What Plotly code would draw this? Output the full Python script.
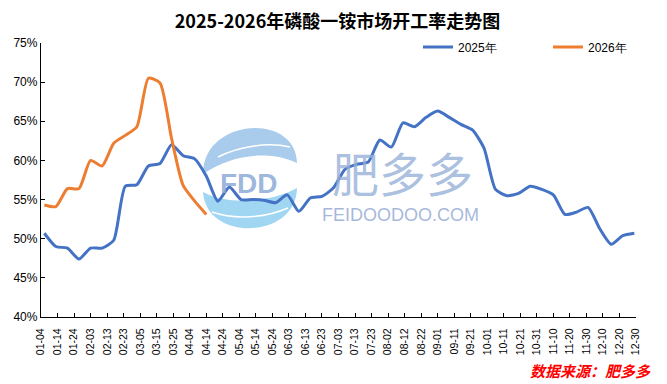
import plotly.graph_objects as go

# ---- data ----
week_dates = ["01-06", "01-13", "01-20", "01-27", "02-03", "02-10", "02-17", "02-24",
              "03-03", "03-10", "03-17", "03-24", "03-31", "04-07", "04-14", "04-21",
              "04-28", "05-05", "05-12", "05-19", "05-26", "06-02", "06-09", "06-16",
              "06-23", "06-30", "07-07", "07-14", "07-21", "07-28", "08-04", "08-11",
              "08-18", "08-25", "09-01", "09-08", "09-15", "09-22", "09-29", "10-06",
              "10-13", "10-20", "10-27", "11-03", "11-10", "11-17", "11-24", "12-01",
              "12-08", "12-15", "12-22", "12-29"]

rate_2025 = [50.7, 49.0, 48.8, 47.4, 48.8, 48.8, 49.8, 56.7, 56.9, 59.3, 59.6, 62.0,
             60.6, 60.2, 58.0, 54.8, 56.6, 55.0, 55.0, 54.9, 54.6, 55.6, 53.5, 55.2,
             55.4, 56.5, 58.9, 59.5, 59.8, 62.6, 61.7, 64.8, 64.3, 65.5, 66.3, 65.5,
             64.6, 63.9, 61.6, 56.3, 55.5, 55.8, 56.7, 56.3, 55.6, 53.1, 53.4, 54.0,
             51.3, 49.3, 50.4, 50.7]

rate_2026 = [54.3, 54.1, 56.4, 56.4, 60.0, 59.3, 62.2, 63.2, 64.3, 70.5, 69.9, 62.8,
             56.8, 54.8, 53.1]

series_names = ["2025年", "2026年"]
title_text = "2025-2026年磷酸一铵市场开工率走势图"
source_text = "数据来源：肥多多"

# ---- layout helpers (reference pixel -> paper); page body has an 8px margin ----
OFF = 8
FW, FH = 667 - OFF, 384 - OFF
L, R, T, B = 41 - OFF, 636 - OFF, 43 - OFF, 317 - OFF
W, H = R - L, B - T


def px(x):
    return (x - OFF - L) / W


def py(y):
    return (B - (y - OFF)) / H


def path(pts_cmds):
    out = []
    for c in pts_cmds:
        if isinstance(c, str):
            out.append(c)
        else:
            out.append(f"{px(c[0]):.4f},{py(c[1]):.4f}")
    return " ".join(out)


xs = ["2025-" + d for d in week_dates]

fig = go.Figure()
fig.add_trace(go.Scatter(x=xs, y=rate_2025, name=series_names[0], mode="lines",
                         line=dict(color="#4472C4", width=3, shape="spline", smoothing=0.6)))
fig.add_trace(go.Scatter(x=xs[:len(rate_2026)], y=rate_2026, name=series_names[1], mode="lines",
                         line=dict(color="#ED7D31", width=3, shape="spline", smoothing=0.6)))

# ---- watermark logo shapes ----
shapes = [
    dict(type="path", xref="paper", yref="paper", layer="below", line=dict(width=0),
         fillcolor="#a9cbec",
         path=path(["M", (203, 174), "C", (203, 118), (296, 112), (297, 163),
                    "C", (270, 150), (232, 154), (203, 174), "Z"])),
    dict(type="path", xref="paper", yref="paper", layer="below", line=dict(width=0),
         fillcolor="#a0d6f2",
         path=path(["M", (203, 192), "C", (228, 206), (272, 202), (297, 188),
                    "C", (296, 240), (206, 242), (203, 192), "Z"])),
    dict(type="path", xref="paper", yref="paper", layer="below",
         line=dict(width=1.5, color="white"),
         path=path(["M", (218, 157), "C", (240, 146), (268, 142), (290, 147)])),
    dict(type="path", xref="paper", yref="paper", layer="below",
         line=dict(width=1.5, color="white"),
         path=path(["M", (212, 212), "C", (235, 220), (265, 218), (288, 208)])),
]

annotations = [
    dict(text="<b>FDD</b>", x=px(249), y=py(183), xref="paper", yref="paper",
         showarrow=False, font=dict(family="Liberation Sans", size=28, color="rgba(140,170,215,0.85)")),
    dict(text="肥多多", x=px(403), y=py(171), xref="paper", yref="paper",
         showarrow=False, font=dict(family="Noto Sans CJK SC", size=47, color="rgba(150,175,215,0.8)")),
    dict(text="FEIDOODOO.COM", x=px(400), y=py(215), xref="paper", yref="paper",
         showarrow=False, font=dict(family="Liberation Sans", size=18, color="rgba(150,172,212,0.85)")),
    dict(text="<b><i>" + source_text + "</i></b>", x=px(653), y=py(370), xref="paper", yref="paper",
         xanchor="right", yanchor="middle", showarrow=False,
         font=dict(family="Noto Sans CJK SC", size=15, color="#FF0000")),
]

fig.update_layout(
    width=FW, height=FH,
    margin=dict(l=L, r=FW - R, t=T, b=FH - B, autoexpand=False),
    paper_bgcolor="white", plot_bgcolor="white",
    title=dict(text="<b>" + title_text + "</b>", x=0.5, xanchor="center",
               y=1 - (22 - OFF) / FH, yanchor="middle",
               font=dict(family="Noto Sans CJK SC", size=18, color="black")),
    font=dict(family="Liberation Sans", color="black"),
    showlegend=True,
    legend=dict(orientation="h", x=px(418), xanchor="left", y=py(47), yanchor="middle",
                font=dict(family="Liberation Sans", size=12, color="black"),
                entrywidth=85, entrywidthmode="pixels", bgcolor="rgba(0,0,0,0)"),
    xaxis=dict(type="date", range=["2025-01-04", "2025-12-30"],
               tick0="2025-01-04", dtick=10 * 86400000, tickformat="%m-%d",
               tickangle=-90, tickfont=dict(family="Liberation Sans", size=10.5),
               showline=True, linecolor="black", linewidth=1.3, ticks="inside",
               ticklen=4, tickcolor="black", showgrid=False, zeroline=False,
               ticklabelstandoff=6, automargin=False),
    yaxis=dict(range=[40, 75], dtick=5, ticksuffix="%",
               tickfont=dict(family="Liberation Sans", size=12),
               showline=True, linecolor="black", linewidth=1.3, ticks="inside",
               ticklen=4, tickcolor="black", showgrid=False, zeroline=False,
               automargin=False),
    shapes=shapes,
    annotations=annotations,
)

fig.write_html("out.html")
